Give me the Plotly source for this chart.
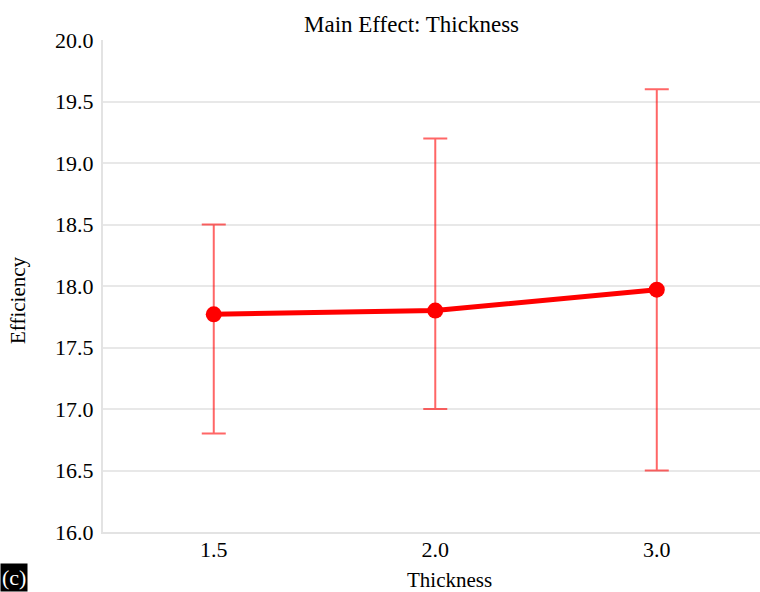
import plotly.graph_objects as go

categories = ["1.5", "2.0", "3.0"]
means = [17.77, 17.80, 17.97]
err_upper = [18.50, 19.20, 19.60]
err_lower = [16.80, 17.00, 16.50]

plus = [u - m for u, m in zip(err_upper, means)]
minus = [m - l for m, l in zip(means, err_lower)]

FONT = "Liberation Serif"
W, H = 760, 592
L, R, T, B = 103, 0, 40, 60
PW, PH = W - L - R, H - T - B


def px_x(px):
    return (px - L) / PW


def px_y(py):
    return (H - B - py) / PH


fig = go.Figure()
fig.add_trace(go.Scatter(
    x=[0, 1, 2], y=means, mode="lines+markers",
    line=dict(color="red", width=5),
    marker=dict(color="red", size=16),
    error_y=dict(type="data", symmetric=False, array=plus, arrayminus=minus,
                 color="rgba(255,0,0,0.6)", thickness=2, width=12),
    showlegend=False,
))

fig.update_layout(
    width=W, height=H,
    margin=dict(l=L, r=R, t=T, b=B, pad=0),
    paper_bgcolor="white", plot_bgcolor="white",
    font=dict(family=FONT, size=20, color="black"),
    xaxis=dict(
        tickmode="array", tickvals=[0, 1, 2], ticktext=categories,
        range=[-0.5, 2.466], showgrid=False, zeroline=False,
        showline=True, linecolor="#e3e3e3", linewidth=2,
        ticks="", tickfont=dict(family=FONT, size=22, color="black"),
        ticklabelstandoff=-3,
    ),
    yaxis=dict(
        range=[16.0, 20.0], dtick=0.5, tickformat=".1f",
        showgrid=True, gridcolor="#e8e8e8", gridwidth=2,
        zeroline=False, showline=True, linecolor="#e3e3e3", linewidth=2,
        ticks="", tickfont=dict(family=FONT, size=22, color="black"),
        ticklabelstandoff=3,
    ),
    annotations=[
        dict(text="Main Effect: Thickness", x=px_x(411), y=px_y(25),
             xref="paper", yref="paper", xanchor="center", yanchor="middle",
             showarrow=False, font=dict(family=FONT, size=23)),
        dict(text="Thickness", x=px_x(449), y=px_y(580),
             xref="paper", yref="paper", xanchor="center", yanchor="middle",
             showarrow=False, font=dict(family=FONT, size=21)),
        dict(text="Efficiency", x=px_x(18), y=px_y(300), textangle=-90,
             xref="paper", yref="paper", xanchor="center", yanchor="middle",
             showarrow=False, font=dict(family=FONT, size=21)),
        dict(text="(c)", x=px_x(0), y=px_y(563),
             xref="paper", yref="paper", xanchor="left", yanchor="top",
             showarrow=False, bgcolor="black", borderpad=1,
             font=dict(family=FONT, color="white", size=22)),
    ],
)

fig.write_html("out.html", config={"displayModeBar": False},
               post_script="document.body.style.margin='0';")
